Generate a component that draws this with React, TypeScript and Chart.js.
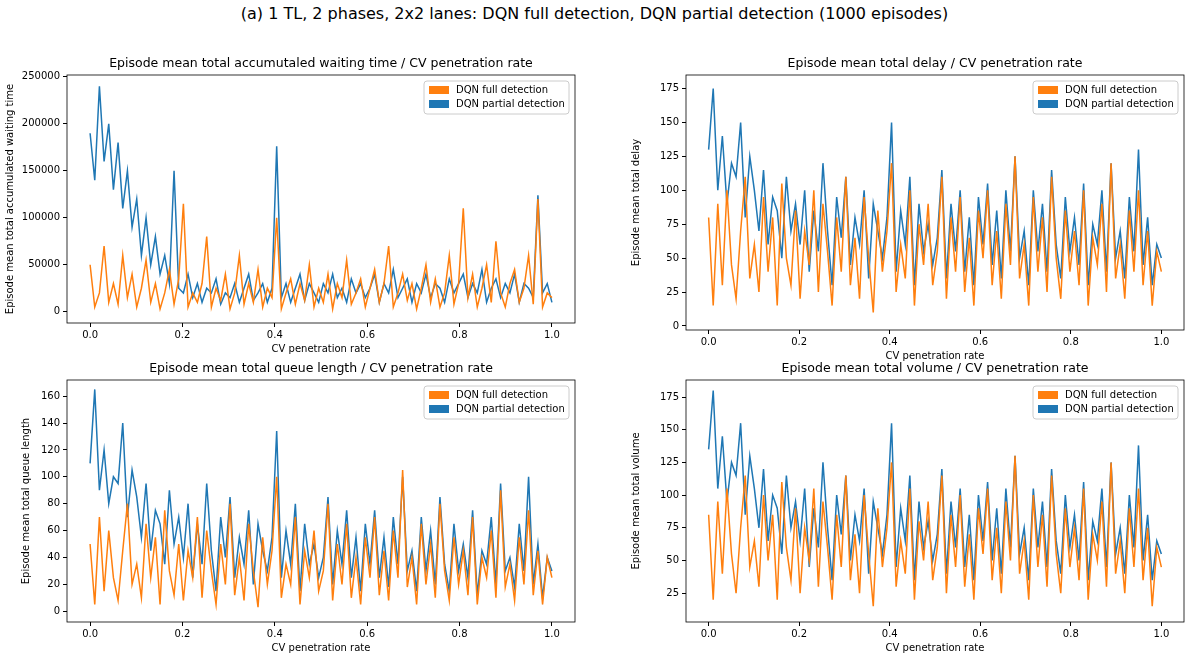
import React, { useEffect, useRef } from "react";
import { Chart, registerables } from "chart.js";
Chart.register(...registerables);

const waitFull = [50000,5000,20000,70000,10000,30000,8000,60000,15000,40000,5000,25000,55000,10000,30000,3000,20000,45000,8000,35000,115000,5000,20000,10000,30000,80000,5000,25000,12000,40000,3000,20000,60000,8000,30000,10000,45000,5000,25000,15000,100000,3000,20000,35000,8000,30000,12000,50000,5000,25000,10000,40000,3000,30000,15000,55000,8000,20000,35000,5000,25000,45000,10000,30000,70000,5000,20000,40000,12000,30000,3000,25000,50000,10000,35000,5000,20000,60000,8000,30000,110000,15000,40000,5000,25000,50000,10000,75000,20000,5000,30000,45000,10000,25000,60000,8000,120000,5000,20000,15000];
const waitPart = [190000,140000,240000,160000,200000,130000,180000,110000,150000,90000,120000,60000,100000,50000,80000,40000,60000,30000,150000,25000,20000,40000,15000,30000,10000,25000,20000,35000,8000,20000,15000,30000,10000,25000,40000,12000,20000,30000,10000,25000,176000,15000,30000,10000,25000,40000,12000,30000,20000,10000,30000,20000,40000,15000,25000,10000,35000,20000,30000,15000,25000,40000,10000,30000,20000,45000,15000,25000,35000,10000,30000,20000,40000,15000,30000,25000,10000,35000,20000,30000,40000,15000,30000,20000,45000,10000,25000,35000,15000,30000,20000,40000,10000,30000,25000,15000,124000,20000,30000,10000];
const delayFull = [80,15,90,30,100,45,20,70,110,35,60,25,95,40,80,15,105,50,30,85,20,70,45,100,25,90,55,15,80,40,110,30,65,20,95,50,10,85,40,70,120,25,60,35,100,15,75,45,90,30,55,110,20,80,40,95,25,65,15,85,50,100,30,70,20,90,45,125,35,60,15,95,40,80,25,110,50,20,85,40,70,30,100,15,65,45,90,25,120,35,60,20,85,40,100,30,70,15,55,40];
const delayPart = [130,175,100,140,90,120,110,150,80,125,100,70,115,60,95,85,50,110,70,90,60,100,40,85,55,120,70,30,95,65,110,45,80,60,100,35,90,70,50,80,150,40,85,60,110,30,90,55,75,45,65,115,35,90,55,100,40,80,30,95,60,105,45,85,35,100,55,125,50,70,30,100,55,90,40,115,60,35,95,55,80,45,105,30,75,60,100,40,120,50,70,35,95,55,130,45,80,30,60,50];
const queueFull = [50,5,70,15,60,25,8,45,80,20,35,10,65,25,55,5,75,30,12,50,8,45,25,70,10,60,30,5,50,20,80,12,40,8,65,30,3,55,20,45,100,10,35,20,70,5,45,25,60,15,30,80,8,50,20,65,10,40,5,55,25,70,12,45,8,60,25,105,18,40,5,65,20,50,10,80,30,8,55,20,45,12,70,5,40,25,60,10,90,18,35,8,55,20,75,12,45,5,40,25];
const queuePart = [110,165,90,120,80,100,95,140,70,105,85,55,95,45,75,65,35,90,50,70,40,80,25,65,35,95,45,15,70,40,85,25,55,35,75,20,65,45,30,55,134,25,60,35,80,15,65,35,50,25,40,85,20,60,35,75,25,55,15,65,35,75,25,55,18,70,35,100,30,45,15,70,30,60,20,85,35,15,65,30,50,25,75,12,45,35,70,20,95,30,40,18,65,30,100,20,50,10,40,30];
const volumeFull = [85,20,95,40,105,55,25,75,115,45,65,30,100,50,85,20,110,60,35,90,25,75,50,105,30,95,60,20,85,45,115,35,70,25,100,55,15,90,45,75,125,30,65,40,105,20,80,50,95,35,60,115,25,85,45,100,30,70,20,90,55,105,35,75,25,95,50,130,40,65,20,100,45,85,30,115,55,25,90,45,75,35,105,20,70,50,95,30,125,40,65,25,90,45,105,35,75,15,60,45];
const volumePart = [135,180,105,145,95,125,115,155,85,130,105,75,120,65,100,90,55,115,75,95,65,105,45,90,60,125,75,35,100,70,115,50,85,65,105,40,95,75,55,85,155,45,90,65,115,35,95,60,80,50,70,120,40,95,60,105,45,85,35,100,65,110,50,90,40,105,60,130,55,75,35,105,60,95,45,120,65,40,100,60,85,50,110,35,80,65,105,45,125,55,75,40,100,60,138,50,85,35,65,55];
const xTicks = [0, 0.2, 0.4, 0.6, 0.8, 1.0];
const seriesNames = ["DQN full detection", "DQN partial detection"];
const ORANGE = "#ff7f0e";
const BLUE = "#1f77b4";
const FONT = "'DejaVu Sans', sans-serif";

const toXY = (ys: number[]) => ys.map((y, i) => ({ x: i / (ys.length - 1), y }));

const framePlugin = {
  id: "frame",
  afterDraw(chart: any, _args: any, opts: any) {
    const { ctx, chartArea: a } = chart;
    ctx.save();
    ctx.strokeStyle = "#000";
    ctx.lineWidth = 0.8;
    ctx.strokeRect(a.left, a.top, a.right - a.left, a.bottom - a.top);
    // title centered on axes
    ctx.fillStyle = "#000";
    ctx.font = `12.5px ${FONT}`;
    ctx.textAlign = "center";
    ctx.textBaseline = "bottom";
    ctx.fillText(opts.title, (a.left + a.right) / 2, a.top - 5);
    ctx.textAlign = "left";
    // legend
    ctx.font = `10px ${FONT}`;
    const w = 145, h = 33;
    const x0 = a.right - w - 6, y0 = a.top + 6;
    ctx.fillStyle = "rgba(255,255,255,0.85)";
    ctx.strokeStyle = "#ccc";
    ctx.lineWidth = 1;
    ctx.beginPath();
    (ctx as any).roundRect(x0, y0, w, h, 3);
    ctx.fill();
    ctx.stroke();
    [ORANGE, BLUE].forEach((c, i) => {
      const yy = y0 + 5 + i * 14;
      ctx.fillStyle = c;
      ctx.fillRect(x0 + 5, yy, 20, 8);
      ctx.fillStyle = "#000";
      ctx.textBaseline = "middle";
      ctx.fillText(seriesNames[i], x0 + 32, yy + 4);
    });
    ctx.restore();
  },
};

type Cfg = {
  left: number; top: number; width: number; height: number; yw: number;
  title: string; ylabel: string; full: number[]; part: number[];
  ymin: number; ymax: number; yticks: number[];
};

function Panel({ c }: { c: Cfg }) {
  const ref = useRef<HTMLCanvasElement>(null);
  useEffect(() => {
    const chart = new Chart(ref.current!, {
      type: "line",
      data: {
        datasets: [
          { label: seriesNames[0], data: toXY(c.full), borderColor: ORANGE, borderWidth: 1.5, pointRadius: 0, tension: 0 },
          { label: seriesNames[1], data: toXY(c.part), borderColor: BLUE, borderWidth: 1.5, pointRadius: 0, tension: 0 },
        ],
      },
      options: {
        animation: false,
        responsive: false,
        layout: { padding: { right: 5, left: 0, top: 31, bottom: 0 } },
        plugins: {
          legend: { display: false },
          tooltip: { enabled: false },
          title: { display: false },
          frame: { title: c.title },
        },
        scales: {
          x: {
            type: "linear", min: -0.05, max: 1.05,
            afterBuildTicks: (s: any) => { s.ticks = xTicks.map((v) => ({ value: v })); },
            afterFit: (s: any) => { s.height = 32; },
            ticks: { color: "#000", font: { family: FONT, size: 10 }, callback: (v: any) => Number(v).toFixed(1), maxRotation: 0, padding: 2 },
            grid: { drawOnChartArea: false, drawTicks: true, tickLength: 4, color: "#000" },
            border: { display: false },
            title: { display: true, text: "CV penetration rate", color: "#000", font: { family: FONT, size: 10 }, padding: 0 },
          },
          y: {
            type: "linear", min: c.ymin, max: c.ymax,
            afterBuildTicks: (s: any) => { s.ticks = c.yticks.map((v) => ({ value: v })); },
            afterFit: (s: any) => { s.width = c.yw; },
            ticks: { color: "#000", font: { family: FONT, size: 10 }, padding: 3, callback: (v: any) => String(v) },
            grid: { drawOnChartArea: false, drawTicks: true, tickLength: 4, color: "#000" },
            border: { display: false },
            title: { display: true, text: c.ylabel, color: "#000", font: { family: FONT, size: 10 }, padding: 0 },
          },
        },
      },
      plugins: [framePlugin],
    } as any);
    return () => chart.destroy();
  }, []);
  return (
    <canvas ref={ref} width={c.width} height={c.height}
      style={{ position: "absolute", left: c.left, top: c.top, width: c.width, height: c.height }} />
  );
}

const panels: Cfg[] = [
  { left: 4, top: 44, width: 576, height: 311, yw: 63, title: "Episode mean total accumutaled waiting time / CV penetration rate", ylabel: "Episode mean total accumulated waiting time", full: waitFull, part: waitPart, ymin: -12000, ymax: 252000, yticks: [0, 50000, 100000, 150000, 200000, 250000] },
  { left: 630, top: 44, width: 559, height: 318, yw: 56, title: "Episode mean total delay / CV penetration rate", ylabel: "Episode mean total delay", full: delayFull, part: delayPart, ymin: -3, ymax: 185, yticks: [0, 25, 50, 75, 100, 125, 150, 175] },
  { left: 20, top: 349, width: 560, height: 305, yw: 47, title: "Episode mean total queue length / CV penetration rate", ylabel: "Episode mean total queue length", full: queueFull, part: queuePart, ymin: -8, ymax: 172, yticks: [0, 20, 40, 60, 80, 100, 120, 140, 160] },
  { left: 630, top: 349, width: 559, height: 305, yw: 56, title: "Episode mean total volume / CV penetration rate", ylabel: "Episode mean total volume", full: volumeFull, part: volumePart, ymin: 3, ymax: 188, yticks: [25, 50, 75, 100, 125, 150, 175] },
];

export default function App() {
  return (
    <div style={{ position: "fixed", left: 0, top: 0, width: 1189, height: 660, background: "#fff", fontFamily: FONT }}>
      <div style={{ position: "absolute", left: 0, top: 4, width: 1189, textAlign: "center", fontSize: 16, color: "#000" }}>
        (a) 1 TL, 2 phases, 2x2 lanes: DQN full detection, DQN partial detection (1000 episodes)
      </div>
      {panels.map((p, i) => <Panel key={i} c={p} />)}
    </div>
  );
}
